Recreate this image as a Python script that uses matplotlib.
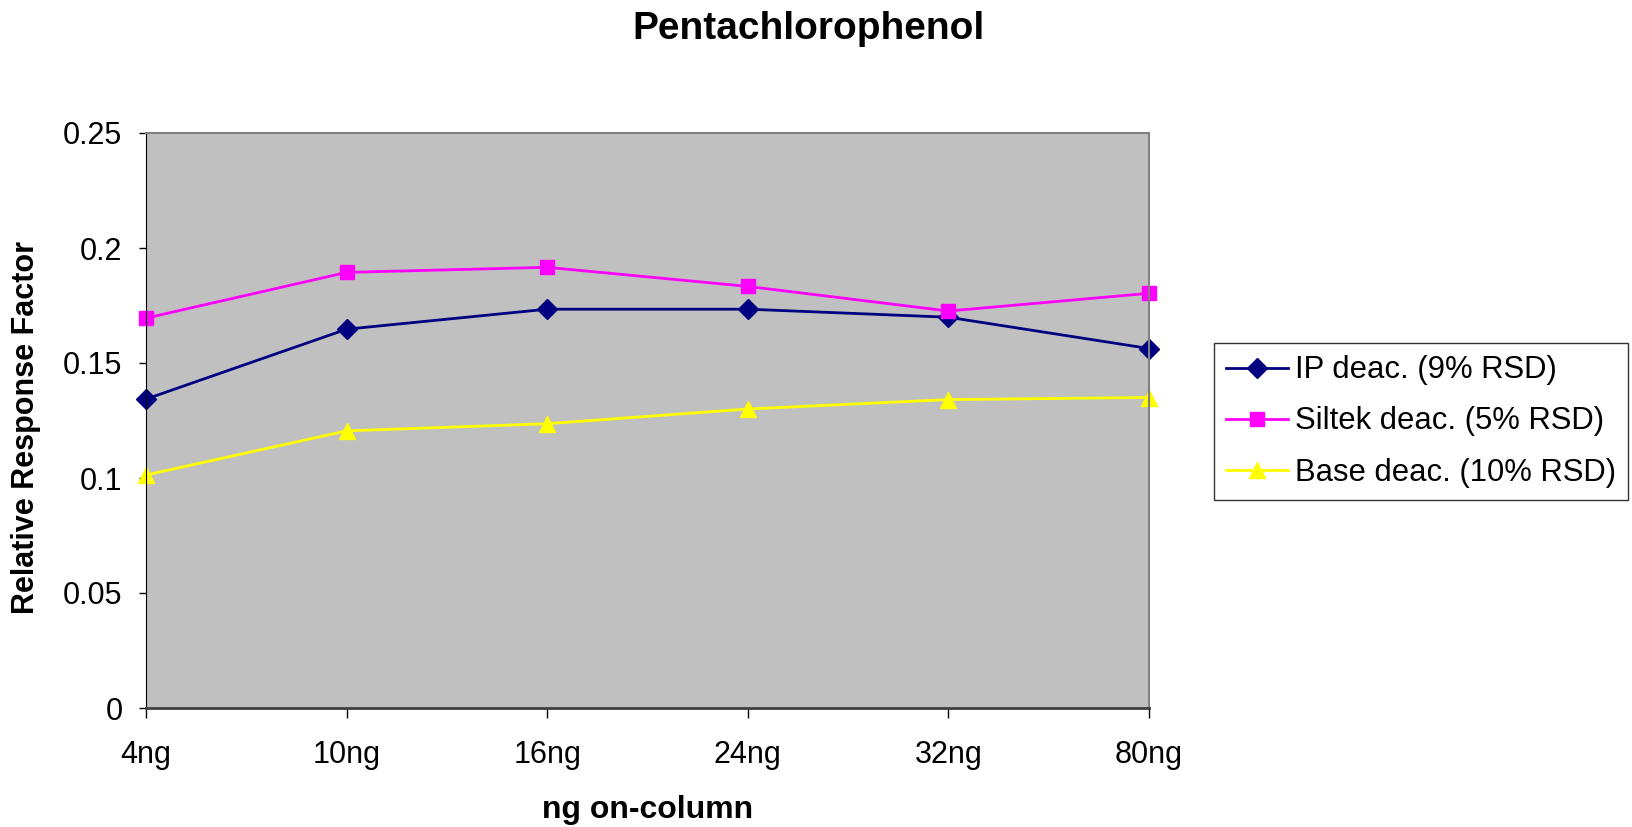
import matplotlib.pyplot as plt

plt.rcParams['font.family'] = ['Liberation Sans', 'DejaVu Sans']

# amounts on column and relative response factors
amounts = ['4ng', '10ng', '16ng', '24ng', '32ng', '80ng']
ip_deac = [0.1343, 0.1647, 0.1734, 0.1734, 0.1699, 0.1563]
siltek_deac = [0.1695, 0.1894, 0.1916, 0.1833, 0.1726, 0.1803]
base_deac = [0.1013, 0.1205, 0.1236, 0.1300, 0.1341, 0.1350]

fig = plt.figure(figsize=(16.33, 8.27), dpi=100)
ax = fig.add_axes([146 / 1633, 1 - 708 / 827, (1149 - 146) / 1633, (708 - 133) / 827])
ax.set_facecolor('#C0C0C0')

x = range(len(amounts))
ax.plot(x, ip_deac, color='#000080', lw=2, marker='D', ms=10, label='IP deac. (9% RSD)', clip_on=False)
ax.plot(x, siltek_deac, color='#FF00FF', lw=2, marker='s', ms=10, label='Siltek deac. (5% RSD)', clip_on=False)
ax.plot(x, base_deac, color='#FFFF00', lw=2, marker='^', ms=12, label='Base deac. (10% RSD)', clip_on=False)

ax.set_xlim(0, 5)
ax.set_ylim(0, 0.25)
ax.set_xticks(list(x))
ax.set_xticklabels(amounts)
ax.set_yticks([0, 0.05, 0.1, 0.15, 0.2, 0.25])
ax.set_yticklabels(['0', '0.05', '0.1', '0.15', '0.2', '0.25'])
ax.tick_params(axis='x', length=7, width=1, pad=16, labelsize=22)
ax.tick_params(axis='y', length=5, width=1, pad=12, labelsize=22)

for side in ['top', 'right']:
    ax.spines[side].set_color('#808080')
    ax.spines[side].set_linewidth(1.5)
ax.spines['left'].set_color('#000000')
ax.spines['bottom'].set_color('#404040')
ax.spines['bottom'].set_linewidth(2)

fig.text(647.5 / 1633, 1 - 810 / 827, 'ng on-column', fontsize=23, fontweight='bold',
         ha='center', va='center')
fig.text(26 / 1633, 1 - 427 / 827, 'Relative Response Factor', fontsize=22, fontweight='bold',
         ha='center', va='center', rotation=90)
fig.text(809 / 1633, 1 - 29 / 827, 'Pentachlorophenol', fontsize=28, fontweight='bold',
         ha='center', va='center')

leg = fig.legend(loc='upper left', bbox_to_anchor=(1214 / 1633, 1 - 343 / 827), fontsize=22.3,
                 frameon=True, fancybox=False, edgecolor='black', borderpad=0.4,
                 labelspacing=0.68, handlelength=2.0, handletextpad=0.2, borderaxespad=0)
leg.get_frame().set_linewidth(1)

fig.savefig('out.png', dpi=100)
